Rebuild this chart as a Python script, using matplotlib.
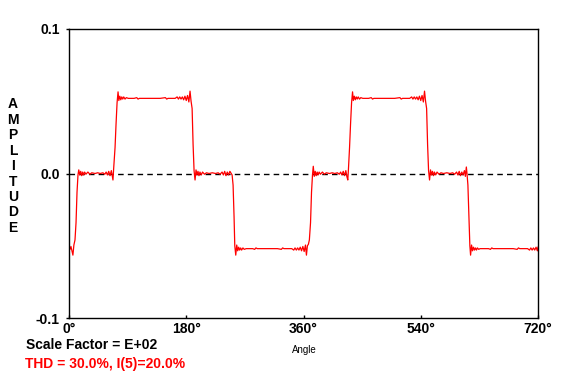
import matplotlib
matplotlib.use("Agg")
import matplotlib.pyplot as plt

# Waveform: (angle in degrees, amplitude, scale E+02)
cycle_1 = [
    (0, -0.051), (1.5, -0.0525), (3, -0.0505), (4.5, -0.0535), (6, -0.0565),
    (7.5, -0.0495), (9.2, -0.046), (10.8, -0.034), (12.3, -0.013), (13.8, -0.001),
    (15, 0.0025), (16.5, -0.001), (18, 0.0015), (19.5, -0.0015), (21, 0.001),
    (22.5, -0.001), (24, 0.001), (26, -0.0005), (29, 0.001), (32, -0.0005),
    (35, 0.0005), (40, 0.0), (44, 0.0005), (48, 0.0), (52, 0.0005), (55, -0.0005),
    (57, 0.001), (59, -0.001), (61, 0.0015), (63, -0.0015), (65, 0.002),
    (66.5, -0.002), (67.5, -0.0045), (68.5, 0.003), (70.7, 0.018), (72.2, 0.034),
    (73.8, 0.049), (75.3, 0.0565), (76.5, 0.0505), (78, 0.0535), (79.5, 0.051),
    (81, 0.053), (82.5, 0.0515), (84, 0.053), (86, 0.0515), (88, 0.0525),
    (91, 0.052), (100, 0.052), (104, 0.0525), (106, 0.0515), (108, 0.052),
    (118, 0.052), (130, 0.052), (140, 0.052), (148, 0.0525), (150, 0.0515),
    (152, 0.052), (163, 0.052), (166, 0.053), (168, 0.0515), (170, 0.053),
    (172, 0.0515), (174, 0.053), (176, 0.051), (178, 0.0535), (180, 0.0505),
    (182, 0.054), (184, 0.0495), (185.8, 0.057), (187.4, 0.050), (189, 0.045),
    (190.5, 0.020), (192, 0.002), (193.5, -0.0045), (195, 0.0025), (196.5, -0.001),
    (198, 0.0015), (199.5, -0.0015), (201, 0.001), (203, -0.001), (205, 0.001),
    (208, -0.0005), (211, 0.0005), (215, 0.0), (220, 0.0005), (225, 0.0),
    (229, 0.0005), (232, -0.0005), (235, 0.001), (237, -0.001), (239, 0.0015),
    (241, -0.0015), (243, 0.001), (245, -0.001), (247, 0.0015), (249, 0.0),
    (250.4, -0.001), (251.9, -0.008), (253.4, -0.030), (254.5, -0.050),
    (256, -0.0565), (257.5, -0.0495), (259, -0.0535), (260.5, -0.051),
    (262, -0.053), (263.5, -0.0515), (265, -0.053), (267, -0.0515),
    (269, -0.0525), (272, -0.052), (282, -0.052), (285, -0.0525), (287, -0.0515),
    (289, -0.052), (300, -0.052), (310, -0.052), (320, -0.052), (326, -0.0525),
    (328, -0.0515), (330, -0.052), (342, -0.052), (345, -0.053), (347, -0.0515),
    (349, -0.053), (351, -0.0515), (353, -0.053), (355, -0.051), (357, -0.0535),
    (359, -0.0505),
]
cycle_2 = [
    (361, -0.054), (363, -0.0495), (364.5, -0.0565), (366, -0.050),
    (367.5, -0.049), (369, -0.046), (370.8, -0.034), (372.3, -0.013),
    (373.8, -0.001), (375, 0.005), (376.5, -0.002), (378, 0.0015),
    (379.5, -0.0015), (381, 0.001), (382.5, -0.001), (384, 0.001),
    (386, -0.0005), (389, 0.001), (392, -0.0005), (395, 0.0005), (400, 0.0),
    (404, 0.0005), (408, 0.0), (412, 0.0005), (415, -0.0005), (417, 0.001),
    (419, -0.001), (421, 0.0015), (423, -0.0015), (425, 0.002), (426.5, -0.002),
    (428, -0.0045), (429, 0.003), (430.7, 0.018), (432.2, 0.034), (433.8, 0.049),
    (435.3, 0.0565), (436.5, 0.0505), (438, 0.0535), (439.5, 0.051), (441, 0.053),
    (442.5, 0.0515), (444, 0.053), (446, 0.0515), (448, 0.0525), (451, 0.052),
    (460, 0.052), (464, 0.0525), (466, 0.0515), (468, 0.052), (478, 0.052),
    (490, 0.052), (500, 0.052), (508, 0.0525), (510, 0.0515), (512, 0.052),
    (523, 0.052), (526, 0.053), (528, 0.0515), (530, 0.053), (532, 0.0515),
    (534, 0.053), (536, 0.051), (538, 0.0535), (540, 0.0505), (542, 0.054),
    (544, 0.0495), (545.8, 0.057), (547.4, 0.050), (549, 0.045), (550.5, 0.020),
    (552, 0.002), (553.5, -0.0045), (555, 0.0025), (556.5, -0.001), (558, 0.0015),
    (559.5, -0.0015), (561, 0.001), (563, -0.001), (565, 0.001), (568, -0.0005),
    (571, 0.0005), (575, 0.0), (580, 0.0005), (585, 0.0), (589, 0.0005),
    (592, -0.0005), (595, 0.001), (597, -0.001), (599, 0.0015), (601, -0.0015),
    (603, 0.001), (605, -0.001), (607, 0.002), (608.5, -0.002), (610, 0.0045),
    (611, 0.0), (612.4, -0.008), (613.9, -0.030), (615.4, -0.050),
    (616.5, -0.0565), (618, -0.0495), (619.5, -0.0535), (621, -0.051),
    (622.5, -0.053), (624, -0.0515), (625.5, -0.053), (627, -0.0515),
    (629, -0.0525), (631, -0.052), (634, -0.052), (644, -0.052), (647, -0.0525),
    (649, -0.0515), (651, -0.052), (662, -0.052), (672, -0.052), (682, -0.052),
    (688, -0.0525), (690, -0.0515), (692, -0.052), (704, -0.052), (707, -0.053),
    (709, -0.0515), (711, -0.053), (713, -0.0515), (715, -0.053), (717, -0.051),
    (719, -0.0535), (720, -0.051),
]

x_ticks = [0, 180, 360, 540, 720]
x_tick_labels = ["0°", "180°", "360°", "540°", "720°"]
y_ticks = [-0.1, 0.0, 0.1]
y_tick_labels = ["-0.1", "0.0", "0.1"]

angle = [p[0] for p in cycle_1 + cycle_2]
amplitude = [p[1] for p in cycle_1 + cycle_2]

fam = ["Liberation Sans", "DejaVu Sans"]

fig = plt.figure(figsize=(5.8, 3.81), dpi=100)
ax = fig.add_axes([69 / 580, 1 - 318 / 381, 469 / 580, 289 / 381])

ax.axhline(0, color="black", lw=1, ls=(0, (4, 3)))
ax.plot(angle, amplitude, color="red", lw=0.9)

ax.set_xlim(0, 720)
ax.set_ylim(-0.1, 0.1)
ax.set_xticks(x_ticks)
ax.set_xticklabels(x_tick_labels, family=fam, fontweight="bold", fontsize=10)
ax.set_yticks(y_ticks)
ax.set_yticklabels(y_tick_labels, family=fam, fontweight="bold", fontsize=10)
ax.tick_params(axis="x", direction="in", length=2.5, width=1, pad=3)
ax.tick_params(axis="y", direction="out", length=2.5, width=1, pad=4)
for s in ax.spines.values():
    s.set_linewidth(1)

# etiquette verticale lettre par lettre
for i, ch in enumerate("AMPLITUDE"):
    fig.text(13 / 580, 1 - (104.5 + i * 15.4) / 381, ch, family=fam,
             fontweight="bold", fontsize=10, ha="center", va="center")

fig.text(304 / 580, 1 - 350 / 381, "Angle", family=fam, fontsize=7,
         ha="center", va="center")
fig.text(26 / 580, 1 - 345 / 381, "Scale Factor = E+02", family=fam,
         fontweight="bold", fontsize=10, ha="left", va="center")
fig.text(25 / 580, 1 - 364 / 381, "THD = 30.0%, I(5)=20.0%", family=fam,
         fontweight="bold", fontsize=10, color="red", ha="left", va="center")

fig.savefig("out.png", dpi=100)
